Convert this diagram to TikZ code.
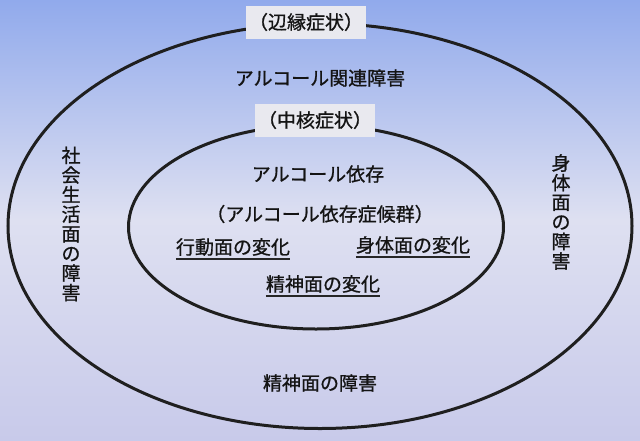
\documentclass[tikz,border=0pt]{standalone}
\usepackage{fontspec}
\usetikzlibrary{shapes.geometric}
\newfontfamily\jp[FakeBold=0.9]{Noto Sans CJK JP}
\begin{document}
\begin{tikzpicture}[x=1pt,y=-1pt,
  ring/.style={draw=black!88,line width=3pt,ellipse,inner sep=0pt},
  txt/.style={font=\jp\fontsize{19}{19}\selectfont,text=black!92,inner sep=0pt},
  tag/.style={txt,fill=labelbg,minimum width=120pt,minimum height=33pt},
  vert/.style={txt,align=center,font=\jp\fontsize{19}{19.6}\selectfont},
  uline/.style={draw=black!85,line width=1.1pt}]
\definecolor{labelbg}{RGB}{233,233,239}
\definecolor{bgtop}{RGB}{145,170,236}
\definecolor{bgmid}{RGB}{222,224,241}
\definecolor{bgbot}{RGB}{200,202,234}
\useasboundingbox (0,0) rectangle (640,440);
\shade[top color=bgtop,bottom color=bgbot,middle color=bgmid] (0,0) rectangle (640,440);
% ellipses
\node[ring,minimum width=624pt,minimum height=405pt] (outer) at (320,226) {};
\node[ring,minimum width=375pt,minimum height=204pt] (inner) at (316,227) {};
% tags
\node[tag] (tagout) at (306,22) {（辺縁症状）};
\node[tag] (tagin) at (315,120) {（中核症状）};
% outer texts
\node[txt] (kanren) at (320,78) {アルコール関連障害};
\node[vert] (shakai) at (71,224) {社\\会\\生\\活\\面\\の\\障\\害};
\node[vert] (shintai) at (561,212) {身\\体\\面\\の\\障\\害};
\node[txt] (seishin) at (320,383) {精神面の障害};
% inner texts
\node[txt] (izon) at (318,174) {アルコール依存};
\node[txt] (kougun) at (320,214) {（アルコール依存症候群）};
\node[txt] (koudou) at (233,247) {行動面の変化};
\node[txt] (shinhen) at (413,245) {身体面の変化};
\node[txt] (seihen) at (323,284) {精神面の変化};
\foreach \n in {koudou,shinhen,seihen}{
  \draw[uline] ([yshift=-3pt]\n.south west) -- ([yshift=-3pt]\n.south east);
}
\end{tikzpicture}
\end{document}
